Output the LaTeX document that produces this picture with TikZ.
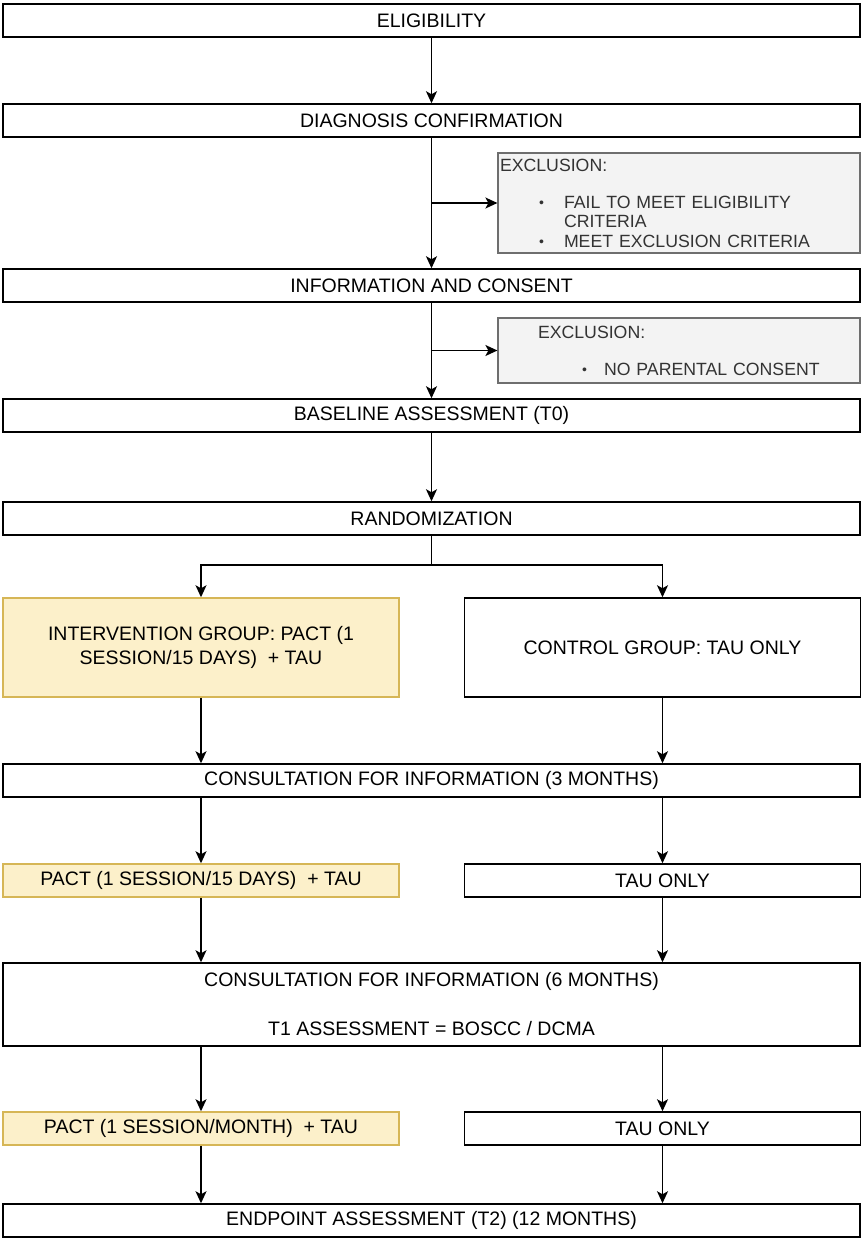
\documentclass[tikz,border=0pt]{standalone}
\usepackage{fontspec}
\setmainfont{Liberation Sans}
\usetikzlibrary{arrows.meta}

\definecolor{pactfill}{HTML}{FCF0CA}
\definecolor{pactdraw}{HTML}{D6B656}
\definecolor{exclfill}{HTML}{F3F3F3}
\definecolor{excldraw}{HTML}{6E6E6E}
\definecolor{excltext}{HTML}{333333}

\newcommand{\bul}[1]{\makebox[#1][l]{\raisebox{0.5pt}{\fontsize{14}{14}\selectfont •}}}

\begin{document}
\begin{tikzpicture}[x=1pt,y=-1pt,
    box/.style={draw, line width=1.5pt, minimum height=33pt, inner sep=0pt,
        align=center, text=black, font=\fontsize{19.5}{23.5}\selectfont},
    wide/.style={box, minimum width=857pt},
    half/.style={box, minimum width=396pt},
    pactbox/.style={half, fill=pactfill, draw=pactdraw},
    exclbox/.style={draw=excldraw, fill=exclfill, line width=1.2pt, text=excltext,
        inner xsep=2pt, inner ysep=0pt, text width=358pt, align=left,
        font=\fontsize{17.7}{19.5}\selectfont},
    flow/.style={-{Stealth[length=12pt,width=11pt,inset=3pt]}, line width=1.5pt}]
    \useasboundingbox (0,0) rectangle (863,1240);

    % Screening steps
    \node[wide] (elig) at (431.5,20.5) {ELIGIBILITY};
    \node[wide] (diag) at (431.5,120.5) {DIAGNOSIS CONFIRMATION};
    \node[exclbox, minimum height=100pt] (excl1) at (679,203) {EXCLUSION:\\[17.5pt]
        \hspace*{39pt}\bul{25pt}FAIL TO MEET ELIGIBILITY\\
        \hspace*{64pt}CRITERIA\\
        \hspace*{39pt}\bul{25pt}MEET EXCLUSION CRITERIA};
    \node[wide] (info) at (431.5,285.5) {INFORMATION AND CONSENT};
    \node[exclbox, minimum height=65pt] (excl2) at (679,350.5) {\hspace*{38pt}EXCLUSION:\\[17.5pt]
        \hspace*{82pt}\bul{22pt}NO PARENTAL CONSENT};
    \node[wide] (base) at (431.5,415.5) {BASELINE ASSESSMENT (T0)};
    \node[wide] (rand) at (431.5,518.5) {RANDOMIZATION};

    % Two arms
    \node[pactbox, minimum height=99pt] (interv) at (201,647.5) {INTERVENTION GROUP: PACT (1\\SESSION/15 DAYS)\ \ + TAU};
    \node[half, minimum height=99pt] (ctrl) at (662.5,647.5) {CONTROL GROUP: TAU ONLY};
    \node[wide] (cons3) at (431.5,780.5) {CONSULTATION FOR INFORMATION (3 MONTHS)};
    \node[pactbox] (pact1) at (201,880.5) {PACT (1 SESSION/15 DAYS)\ \ + TAU};
    \node[half] (tau1) at (662.5,880.5) {TAU ONLY};
    \node[wide, minimum height=83pt] (cons6) at (431.5,1004.5) {CONSULTATION FOR INFORMATION (6 MONTHS)\\[25.5pt]T1 ASSESSMENT = BOSCC / DCMA};
    \node[pactbox] (pact2) at (201,1128.5) {PACT (1 SESSION/MONTH)\ \ + TAU};
    \node[half] (tau2) at (662.5,1128.5) {TAU ONLY};
    \node[wide] (endp) at (431.5,1220.5) {ENDPOINT ASSESSMENT (T2) (12 MONTHS)};

    % Junctions
    \coordinate (j1) at (431.5,203);
    \coordinate (j2) at (431.5,350.5);
    \coordinate (split) at (431.5,565);

    % Connectors
    \draw[flow] (elig) -- (diag);
    \draw[flow] (diag) -- (info);
    \draw[flow] (j1) -- (excl1);
    \draw[flow] (info) -- (base);
    \draw[flow] (j2) -- (excl2);
    \draw[flow] (base) -- (rand);
    \draw[line width=1.5pt] (rand) -- (split);
    \draw[flow] (split) -| (interv);
    \draw[flow] (split) -| (ctrl);
    \draw[flow] (interv) -- (interv |- cons3.north);
    \draw[flow] (ctrl) -- (ctrl |- cons3.north);
    \draw[flow] (cons3.south -| pact1) -- (pact1);
    \draw[flow] (cons3.south -| tau1) -- (tau1);
    \draw[flow] (pact1) -- (pact1 |- cons6.north);
    \draw[flow] (tau1) -- (tau1 |- cons6.north);
    \draw[flow] (cons6.south -| pact2) -- (pact2);
    \draw[flow] (cons6.south -| tau2) -- (tau2);
    \draw[flow] (pact2) -- (pact2 |- endp.north);
    \draw[flow] (tau2) -- (tau2 |- endp.north);
\end{tikzpicture}
\end{document}
